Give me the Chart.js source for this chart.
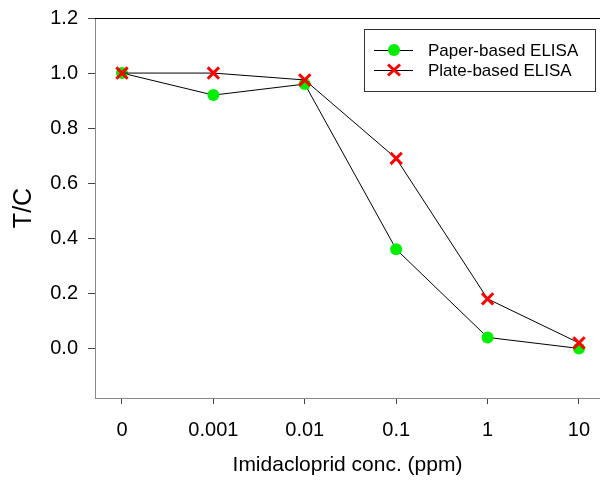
<!DOCTYPE html>
<html>
<head>
<meta charset="utf-8">
<script src="https://cdn.jsdelivr.net/npm/chart.js@4.4.1/dist/chart.umd.min.js"></script>
<style>
  html, body { margin:0; padding:0; background:#fff; }
  #wrap { width:600px; height:481px; }
</style>
</head>
<body>
<div id="wrap"><canvas id="c" width="600" height="481"></canvas></div>
<script>
// imidacloprid concentrations (ppm), plotted at equal spacing
const concLabels = ['0', '0.001', '0.01', '0.1', '1', '10'];
const paperElisa = [1.00, 0.92, 0.96, 0.36, 0.04, 0.00];
const plateElisa = [1.00, 1.00, 0.975, 0.69, 0.18, 0.02];
const yTicks = [0, 0.2, 0.4, 0.6, 0.8, 1.0, 1.2];

const FONT = "'Liberation Sans', Arial, sans-serif";
const GREEN = '#00ee00', RED = '#ff0000';

const toPts = arr => arr.map((v, i) => ({ x: i, y: v }));

// top frame line + boxed legend in the upper right
const extras = {
  id: 'extras',
  afterDraw(chart){
    const ctx = chart.ctx, a = chart.chartArea;
    ctx.save();
    ctx.strokeStyle = '#000'; ctx.lineWidth = 1;
    ctx.beginPath(); ctx.moveTo(a.left, a.top + 0.5); ctx.lineTo(a.right, a.top + 0.5); ctx.stroke();

    // legend box
    ctx.strokeStyle = '#333';
    ctx.strokeRect(364.5, 29.5, 231, 62);
    const items = [
      { text:'Paper-based ELISA', y:50, mark:'circle' },
      { text:'Plate-based ELISA', y:70, mark:'cross' }
    ];
    ctx.font = '17px ' + FONT;
    ctx.textBaseline = 'middle'; ctx.textAlign = 'left';
    items.forEach(it => {
      ctx.strokeStyle = '#000'; ctx.lineWidth = 1;
      ctx.beginPath(); ctx.moveTo(374, it.y + 0.5); ctx.lineTo(413, it.y + 0.5); ctx.stroke();
      if(it.mark === 'circle'){
        ctx.fillStyle = GREEN;
        ctx.beginPath(); ctx.arc(394, it.y, 6, 0, Math.PI*2); ctx.fill();
      } else {
        ctx.strokeStyle = RED; ctx.lineWidth = 3;
        ctx.beginPath();
        ctx.moveTo(388, it.y - 5.5); ctx.lineTo(400, it.y + 5.5);
        ctx.moveTo(400, it.y - 5.5); ctx.lineTo(388, it.y + 5.5);
        ctx.stroke();
      }
      ctx.fillStyle = '#000';
      ctx.fillText(it.text, 428, it.y + 1);
    });
    ctx.restore();
  }
};

new Chart(document.getElementById('c'), {
  type: 'line',
  data: {
    datasets: [
      { label:'Plate-based ELISA', data: toPts(plateElisa), order:0,
        borderColor:'#000', borderWidth:1, tension:0,
        pointStyle:'crossRot', pointRadius:8, pointBorderColor:RED, pointBorderWidth:3,
        pointBackgroundColor:RED },
      { label:'Paper-based ELISA', data: toPts(paperElisa), order:1,
        borderColor:'#000', borderWidth:1, tension:0,
        pointStyle:'circle', pointRadius:6, pointBorderWidth:0,
        pointBackgroundColor:GREEN, pointBorderColor:GREEN }
    ]
  },
  options: {
    responsive:false, animation:false,
    layout:{ autoPadding:false, padding:{ top:18, right:0, left:0, bottom:0 } },
    plugins:{ legend:{ display:false }, tooltip:{ enabled:false } },
    scales:{
      x:{
        type:'linear', min:-0.295, max:5.23,
        afterBuildTicks: s => { s.ticks = concLabels.map((_, i) => ({ value:i })); },
        afterFit: s => { s.height = 83; s.paddingLeft = 0; s.paddingRight = 0; },
        grid:{ drawOnChartArea:false, drawTicks:true, tickLength:6, tickColor:'#444' },
        border:{ color:'#888', width:1 },
        ticks:{ callback: (v) => concLabels[v], color:'#000', padding:14,
                font:{ family:FONT, size:20 }, maxRotation:0, autoSkip:false },
        title:{ display:true, text:'Imidacloprid conc. (ppm)', color:'#000',
                font:{ family:FONT, size:21 }, padding:{ top:0, bottom:3 } }
      },
      y:{
        min:-0.18, max:1.2,
        afterBuildTicks: s => { s.ticks = yTicks.map(v => ({ value:v })); },
        afterFit: s => { s.width = 95; s.paddingTop = 0; s.paddingBottom = 0; },
        grid:{ drawOnChartArea:false, drawTicks:true, tickLength:7, tickColor:'#444' },
        border:{ color:'#888', width:1 },
        ticks:{ callback: v => v.toFixed(1), color:'#000', padding:10,
                font:{ family:FONT, size:20 } },
        title:{ display:true, text:'T/C', color:'#000',
                font:{ family:FONT, size:25 }, padding:{ top:9, bottom:0 } }
      }
    }
  },
  plugins:[extras]
});
</script>
</body>
</html>
